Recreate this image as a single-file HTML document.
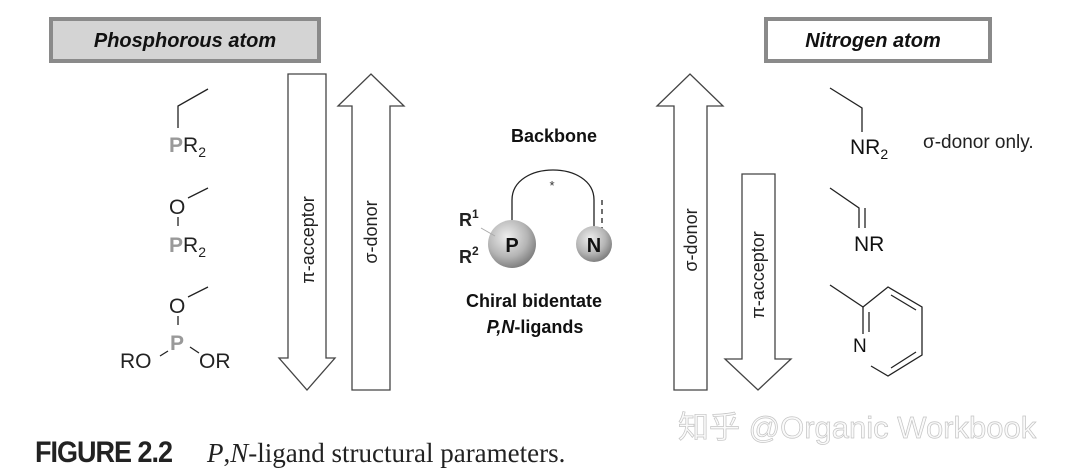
<!DOCTYPE html>
<html><head><meta charset="utf-8"><style>
html,body{margin:0;padding:0;background:#fff;}
body{width:1080px;height:476px;overflow:hidden;position:relative;}
svg{position:absolute;left:0;top:0;}
</style></head><body>
<svg width="1080" height="476" viewBox="0 0 1080 476" font-family="Liberation Sans, sans-serif">
<rect x="51" y="19" width="268" height="42" fill="#d4d4d4" stroke="#8a8a8a" stroke-width="4"/>
<text x="185" y="47" font-size="20" font-weight="bold" font-style="italic" text-anchor="middle" fill="#111">Phosphorous atom</text>
<rect x="766" y="19" width="224" height="42" fill="#fff" stroke="#8a8a8a" stroke-width="4"/>
<text x="873" y="47" font-size="20" font-weight="bold" font-style="italic" text-anchor="middle" fill="#111">Nitrogen atom</text>

<g fill="#fff" stroke="#444" stroke-width="1.3">
<polygon points="288,74 326,74 326,358 335,358 307,390 279,358 288,358"/>
<polygon points="352,390 390,390 390,106 404,106 371,74 338,106 352,106"/>
<polygon points="674,390 707,390 707,106 723,106 690,74 657,106 674,106"/>
<polygon points="742,174 775,174 775,359 791,359 758,390 725,359 742,359"/>
</g>
<g font-size="18" fill="#222">
<text transform="translate(314,240) rotate(-90)" text-anchor="middle">π-acceptor</text>
<text transform="translate(377,232) rotate(-90)" text-anchor="middle">σ-donor</text>
<text transform="translate(697,240) rotate(-90)" text-anchor="middle">σ-donor</text>
<text transform="translate(764,275) rotate(-90)" text-anchor="middle">π-acceptor</text>
</g>

<g stroke="#222" stroke-width="1.3" fill="none">
<polyline points="208,89 178,106 178,128"/>
<line x1="188" y1="198" x2="208" y2="188"/>
<line x1="178" y1="217" x2="178" y2="226"/>
<line x1="188" y1="297" x2="208" y2="287"/>
<line x1="178" y1="316" x2="178" y2="325"/>
<line x1="160" y1="356" x2="168" y2="351"/>
<line x1="190" y1="347" x2="199" y2="353"/>
</g>
<g font-size="21" fill="#222">
<text x="169" y="152"><tspan fill="#999" font-weight="bold">P</tspan>R<tspan font-size="14" dy="5">2</tspan></text>
<text x="169" y="214">O</text>
<text x="169" y="252"><tspan fill="#999" font-weight="bold">P</tspan>R<tspan font-size="14" dy="5">2</tspan></text>
<text x="169" y="313">O</text>
<text x="170" y="350" fill="#999" font-weight="bold">P</text>
<text x="120" y="368">RO</text>
<text x="199" y="368">OR</text>
</g>

<defs>
<radialGradient id="g1" cx="0.4" cy="0.35" r="0.7">
<stop offset="0" stop-color="#eee"/><stop offset="0.6" stop-color="#b5b5b5"/><stop offset="1" stop-color="#777"/>
</radialGradient>
</defs>
<text x="554" y="142" font-size="18" font-weight="bold" text-anchor="middle" fill="#111">Backbone</text>
<path d="M512,238 L512,200 C512,160 594,160 594,200 L594,238" fill="none" stroke="#222" stroke-width="1.3"/>
<line x1="602" y1="200" x2="602" y2="230" stroke="#222" stroke-width="1.3" stroke-dasharray="5,4"/>
<text x="552" y="190" font-size="13" text-anchor="middle" fill="#333">*</text>
<circle cx="512" cy="244" r="24" fill="url(#g1)"/>
<circle cx="594" cy="244" r="18" fill="url(#g1)"/>
<text x="512" y="252" font-size="20" font-weight="bold" text-anchor="middle" fill="#111">P</text>
<text x="594" y="252" font-size="20" font-weight="bold" text-anchor="middle" fill="#111">N</text>
<line x1="481" y1="228" x2="495" y2="236" stroke="#aaa" stroke-width="1"/>
<text x="459" y="226" font-size="18" font-weight="bold" fill="#222">R<tspan font-size="12" dy="-8">1</tspan></text>
<text x="459" y="263" font-size="18" font-weight="bold" fill="#222">R<tspan font-size="12" dy="-8">2</tspan></text>
<text x="534" y="307" font-size="18" font-weight="bold" text-anchor="middle" fill="#111">Chiral bidentate</text>
<text x="535" y="333" font-size="18" font-weight="bold" text-anchor="middle" fill="#111"><tspan font-style="italic">P,N</tspan>-ligands</text>

<g stroke="#222" stroke-width="1.3" fill="none">
<polyline points="830,88 862,108 862,132"/>
<polyline points="830,188 859,208 859,228"/>
<line x1="865" y1="208" x2="865" y2="228"/>
<line x1="830" y1="285" x2="863" y2="307"/>
<polyline points="863,307 888,287 922,307 922,355 888,376 871,366"/>
<line x1="863" y1="307" x2="863" y2="334"/>
<line x1="869" y1="312" x2="869" y2="332"/>
<line x1="891" y1="295" x2="916" y2="310"/>
<line x1="891" y1="368" x2="916" y2="352"/>
</g>
<g font-size="21" fill="#111">
<text x="850" y="154">NR<tspan font-size="14" dy="5">2</tspan></text>
<text x="854" y="251">NR</text>
<text x="853" y="352" font-size="19">N</text>
</g>
<text x="923" y="148" font-size="19" fill="#222">σ-donor only.</text>

<text transform="translate(35,462) scale(1.0,1.08)" font-weight="bold" font-size="27" fill="#222" letter-spacing="-1">FIGURE 2.2</text>
<text x="207" y="462" font-family="Liberation Serif, serif" font-size="27" fill="#222"><tspan font-style="italic">P</tspan>,<tspan font-style="italic">N</tspan>-ligand structural parameters.</text>
<text x="678" y="438" font-family="Liberation Sans, 'Noto Sans CJK SC', sans-serif" font-size="31" fill="#fafafa" stroke="#c4c4c4" stroke-width="0.7">知乎 @Organic Workbook</text>
</svg>
</body></html>
